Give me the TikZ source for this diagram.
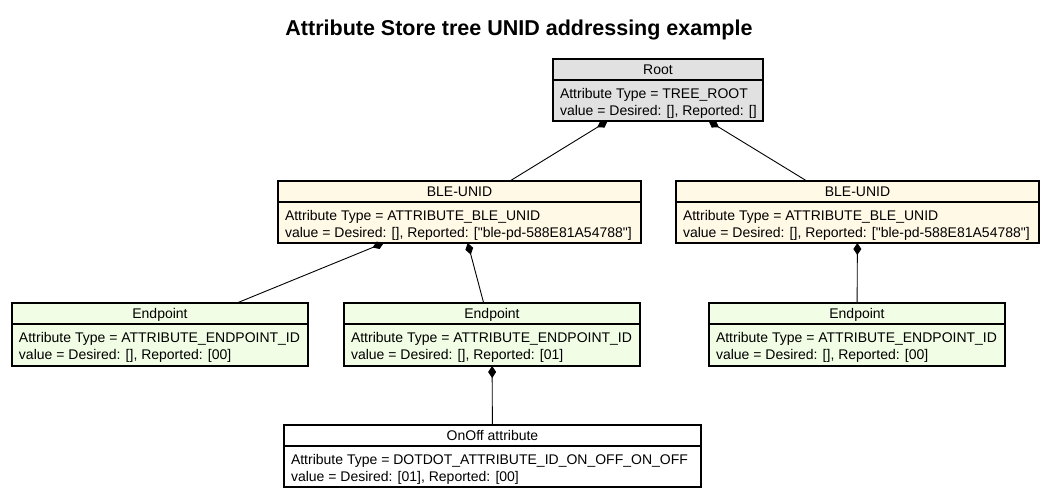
\documentclass[tikz,border=0pt]{standalone}
\usepackage{fontspec}
\setmainfont{Liberation Sans}
\newfontfamily\uifont{Liberation Sans}
\usetikzlibrary{arrows.meta}
\definecolor{rootfill}{HTML}{E1E1E1}
\definecolor{blefill}{HTML}{FFF9E6}
\definecolor{epfill}{HTML}{F1FDE4}
\definecolor{attrfill}{HTML}{FFFFFF}
\tikzset{
  umlframe/.style={draw=black, line width=1.1pt, rectangle, inner sep=0pt, outer sep=0pt},
  umltext/.style={inner sep=0pt, outer sep=0pt, font=\uifont\fontsize{14}{16}\selectfont},
  owns/.style={line width=0.9pt, {Diamond[length=12pt,width=8pt]}-},
}
\newcommand\umlbox[9]{%
  \pgfmathsetmacro\bw{#4-#2}%
  \pgfmathsetmacro\bh{#5-#3}%
  \pgfmathsetmacro\bx{(#2+#4)/2}%
  \pgfmathsetmacro\by{(#3+#5)/2}%
  \node[umlframe, fill=#6, minimum width=\bw pt, minimum height=\bh pt] (#1) at (\bx,\by) {};
  \draw[line width=1.1pt] ([yshift=-21pt]#1.north west) -- ([yshift=-21pt]#1.north east);
  \node[umltext, anchor=base] (#1-t) at ([yshift=-15pt]#1.north) {#7};
  \node[umltext, anchor=base west] (#1-a) at ([xshift=7pt,yshift=-39pt]#1.north west) {#8};
  \node[umltext, anchor=base west] (#1-b) at ([xshift=7pt,yshift=-56pt]#1.north west) {#9};
}
\begin{document}
\begin{tikzpicture}[x=1pt,y=-1pt]
\useasboundingbox[fill=white] (0,0) rectangle (1045,493);
\node[inner sep=0pt, anchor=base, font=\uifont\fontsize{21.5}{24}\selectfont\bfseries] (title) at (519,35.5) {Attribute Store tree UNID addressing example};

\umlbox{root}{553}{59}{763}{121}{rootfill}{Root}{Attribute Type = TREE\_ROOT}{value = Desired: [], Reported: []}
\umlbox{bleA}{278}{181}{641}{243}{blefill}{BLE-UNID}{Attribute Type = ATTRIBUTE\_BLE\_UNID}{value = Desired: [], Reported: ["ble-pd-588E81A54788"]}
\umlbox{bleB}{676}{181}{1039}{243}{blefill}{BLE-UNID}{Attribute Type = ATTRIBUTE\_BLE\_UNID}{value = Desired: [], Reported: ["ble-pd-588E81A54788"]}
\umlbox{epA}{12}{303}{308}{366}{epfill}{Endpoint}{Attribute Type = ATTRIBUTE\_ENDPOINT\_ID}{value = Desired: [], Reported: [00]}
\umlbox{epB}{344}{303}{640}{366}{epfill}{Endpoint}{Attribute Type = ATTRIBUTE\_ENDPOINT\_ID}{value = Desired: [], Reported: [01]}
\umlbox{epC}{709}{303}{1005}{366}{epfill}{Endpoint}{Attribute Type = ATTRIBUTE\_ENDPOINT\_ID}{value = Desired: [], Reported: [00]}
\umlbox{onoff}{284}{425}{701}{487}{attrfill}{OnOff attribute}{Attribute Type = DOTDOT\_ATTRIBUTE\_ID\_ON\_OFF\_ON\_OFF}{value = Desired: [01], Reported: [00]}

\draw[owns] (root) -- (bleA);
\draw[owns] (root) -- (bleB);
\draw[owns] (bleA) -- (epA);
\draw[owns] (bleA) -- (epB);
\draw[owns] (bleB) -- (epC);
\draw[owns] (epB) -- (onoff);
\end{tikzpicture}
\end{document}
